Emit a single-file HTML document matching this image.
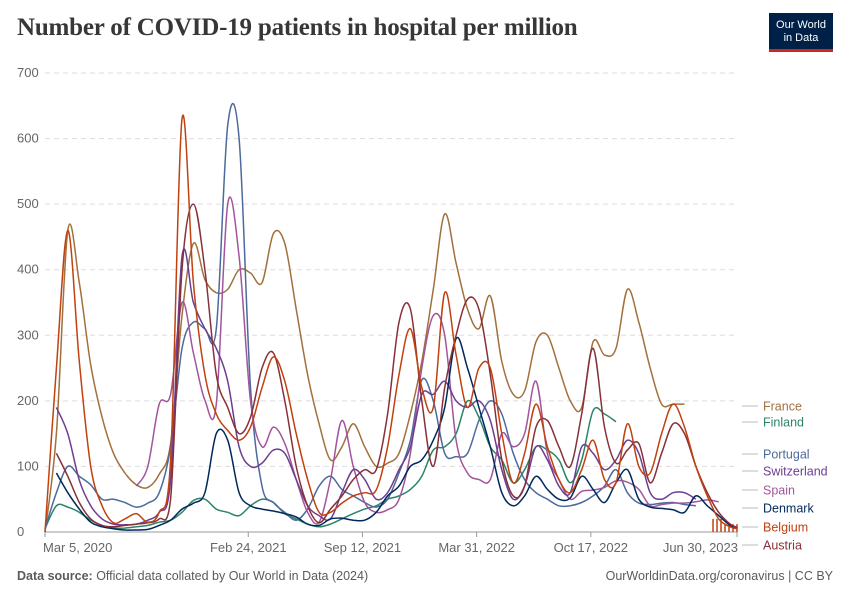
<!DOCTYPE html>
<html><head><meta charset="utf-8">
<style>
body{margin:0;background:#fff;font-family:"Liberation Sans",sans-serif;}
#wrap{position:relative;width:850px;height:600px;overflow:hidden;}
.title{position:absolute;left:17px;top:14px;font-family:"Liberation Serif",serif;font-weight:bold;font-size:25px;color:#373737;letter-spacing:-0.2px;}
.logo{position:absolute;left:769px;top:13px;width:64px;height:39px;background:#002147;color:#fff;font-size:11px;text-align:center;line-height:13px;box-sizing:border-box;padding-top:6px;border-bottom:3px solid #ce261e;}
.foot{position:absolute;top:569px;font-size:12.5px;color:#5b5b5b;}
</style></head><body>
<div id="wrap">
<div class="title">Number of COVID-19 patients in hospital per million</div>
<div class="logo">Our World<br>in Data</div>
<svg id="chart" width="850" height="600" style="position:absolute;left:0;top:0"></svg>
<div class="foot" style="left:17px"><b>Data source:</b> Official data collated by Our World in Data (2024)</div>
<div class="foot" style="right:17px">OurWorldinData.org/coronavirus | CC BY</div>
</div>
<script>
const days=[0,20,40,60,80,100,120,140,160,180,200,220,240,260,280,300,320,340,360,380,400,420,440,460,480,500,520,540,560,580,600,620,640,660,680,700,720,740,760,780,800,820,840,860,880,900,920,940,960,980,1000,1020,1040,1060,1080,1100,1120,1140,1160,1180,1200,1212];
const yTicks=[0,100,200,300,400,500,600,700];
const xTickDays=[0,356,556,756,956,1212];
const xTickLabels=["Mar 5, 2020","Feb 24, 2021","Sep 12, 2021","Mar 31, 2022","Oct 17, 2022","Jun 30, 2023"];
const seriesNames=["France","Finland","Portugal","Switzerland","Spain","Denmark","Belgium","Austria"];
const france=[0,150,460,380,255,175,120,90,72,68,88,135,330,440,385,365,370,400,395,380,455,440,340,240,165,110,130,165,130,100,105,120,180,260,370,485,410,340,310,360,260,210,215,290,300,250,200,190,290,270,280,370,320,250,195,195,195,null,null,null,null,null];
const finland=[5,40,38,30,18,10,6,6,8,10,15,18,30,48,50,35,30,25,40,50,45,28,20,12,8,12,20,28,35,40,50,55,65,85,125,130,150,200,175,130,110,75,95,130,125,110,75,110,185,180,168,null,null,null,null,null,null,null,null,null,null,null];
const portugal=[5,60,100,85,72,50,50,45,38,44,60,130,280,320,310,310,620,600,220,70,45,30,18,35,70,85,65,55,45,38,50,90,140,232,200,120,115,120,170,200,180,120,80,60,50,40,40,45,55,70,95,60,44,42,44,45,42,40,null,null,null,null];
const switzerland=[null,190,150,79,40,20,12,11,12,18,30,80,420,350,310,280,230,130,100,105,125,120,80,40,25,20,60,95,80,50,60,95,130,210,210,230,200,190,200,170,95,50,70,130,110,70,60,130,120,95,110,140,120,60,50,60,60,50,null,null,null,null];
const spain=[null,null,null,null,null,null,null,null,70,100,195,210,350,273,201,195,500,420,200,130,160,135,80,30,15,80,170,100,45,30,34,50,120,250,330,300,140,90,80,80,150,130,150,230,120,80,50,62,64,68,78,76,65,40,42,44,44,46,49,46,null,null];
const denmark=[null,90,60,35,15,8,5,3,3,4,10,18,35,44,60,150,140,60,40,35,32,28,23,12,10,20,21,18,18,30,55,70,100,110,140,190,295,250,190,130,60,40,55,85,65,50,52,85,65,45,75,95,50,38,36,34,30,55,40,25,10,6];
const belgium=[0,250,460,260,100,40,14,20,28,15,30,110,630,380,240,180,155,140,160,220,267,230,150,80,30,30,44,55,60,64,130,240,310,220,190,365,270,190,250,250,150,75,120,195,130,80,60,95,140,80,75,165,100,90,150,195,160,100,55,20,8,5];
const austria=[null,120,85,45,20,10,8,10,12,14,20,50,400,500,400,240,190,150,175,250,273,200,100,40,14,35,55,80,95,95,180,320,340,200,100,220,300,355,340,240,110,55,70,160,170,130,100,180,280,160,105,125,135,75,120,165,150,100,60,30,12,7];
const colors={France:"#a2703c",Finland:"#2c8465",Portugal:"#4c6a9c",Switzerland:"#6d3e91",Spain:"#a2559c",Denmark:"#00295b",Belgium:"#c1410f",Austria:"#883039"};
const labelY={France:406,Finland:422,Portugal:454,Switzerland:471,Spain:490,Denmark:508,Belgium:527,Austria:545};
const data={France:france,Finland:finland,Portugal:portugal,Switzerland:switzerland,Spain:spain,Denmark:denmark,Belgium:belgium,Austria:austria};

const NS="http://www.w3.org/2000/svg";
const svg=document.getElementById('chart');
const X0=45,X1=737,Y0=532,Y1=73;
const xs=d=>X0+d/1212*(X1-X0);
const ys=v=>Y0-v/700*(Y0-Y1);
function mk(tag,attrs,parent){const e=document.createElementNS(NS,tag);for(const k in attrs)e.setAttribute(k,attrs[k]);(parent||svg).appendChild(e);return e;}

yTicks.forEach(t=>{
  if(t>0){const g=mk('line',{x1:X0,x2:X1,y1:ys(t),y2:ys(t),stroke:'#dddddd','stroke-dasharray':'5,4'});
  
  }
  const tx=mk('text',{x:17,y:ys(t)+4,'font-size':'13','fill':'#666','font-family':'Liberation Sans, sans-serif'});
  tx.textContent=t;
  
  
});
const ax=mk('line',{x1:X0,x2:X1,y1:Y0,y2:Y0,stroke:'#999'});


xTickDays.forEach((d,i)=>{
  const x=xs(d);
  const tk=mk('line',{x1:x,x2:x,y1:Y0,y2:Y0+5,stroke:'#999'});
  
  
  let anchor=i==0?'start':(i==xTickLabels.length-1?'end':'middle');
  let tx_=i==0?x-2:(i==xTickLabels.length-1?x+1:x);
  const tx=mk('text',{x:tx_,y:Y0+20,'font-size':'13','fill':'#666','text-anchor':anchor,'font-family':'Liberation Sans, sans-serif'});
  tx.textContent=xTickLabels[i];
  
  
});
for(let d=1170;d<=1212;d+=7){
  const b=mk('line',{x1:xs(d),x2:xs(d),y1:Y0,y2:ys(d<1185?20:12),stroke:colors.Belgium,'stroke-width':1.5});
  
  
}
function smoothPath(pts){
  if(pts.length<2)return '';
  let d='M'+pts[0][0].toFixed(1)+','+pts[0][1].toFixed(1);
  for(let i=0;i<pts.length-1;i++){
    const p0=pts[i-1]||pts[i],p1=pts[i],p2=pts[i+1],p3=pts[i+2]||p2;
    const c1x=p1[0]+(p2[0]-p0[0])/6,c1y=p1[1]+(p2[1]-p0[1])/6;
    const c2x=p2[0]-(p3[0]-p1[0])/6,c2y=p2[1]-(p3[1]-p1[1])/6;
    d+='C'+c1x.toFixed(1)+','+Math.min(Y0,c1y).toFixed(1)+' '+c2x.toFixed(1)+','+Math.min(Y0,c2y).toFixed(1)+' '+p2[0].toFixed(1)+','+p2[1].toFixed(1);
  }
  return d;
}
const order=["France","Finland","Portugal","Spain","Switzerland","Denmark","Austria","Belgium"];
order.forEach(name=>{
  const vals=data[name];let segs=[],cur=[];
  vals.forEach((v,i)=>{if(v==null){if(cur.length)segs.push(cur);cur=[];return;}cur.push([xs(days[i]),ys(v)]);});
  if(cur.length)segs.push(cur);
  const d=segs.map(smoothPath).join('');
  const p=mk('path',{d:d,fill:'none',stroke:colors[name],'stroke-width':1.5,'stroke-linejoin':'round'});
  
  
});
seriesNames.forEach(name=>{
  const ly=labelY[name];
  const c=mk('line',{x1:742,x2:758,y1:ly,y2:ly,stroke:'#bbb'});
  
  
  const t=mk('text',{x:763,y:ly+4.5,'font-size':'12.5','fill':colors[name],'font-family':'Liberation Sans, sans-serif'});
  t.textContent=name;
  
  
});
</script>
</body></html>
